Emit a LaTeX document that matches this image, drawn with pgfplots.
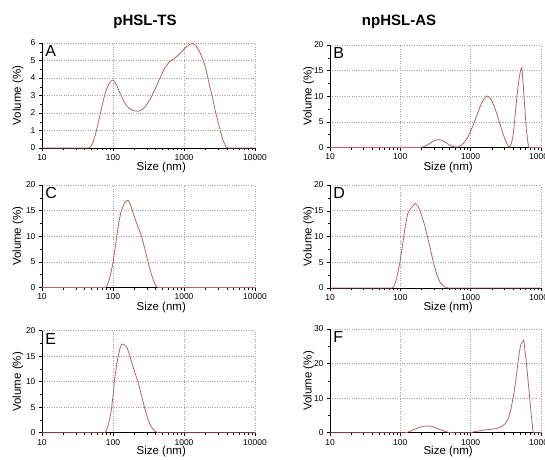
\documentclass[border=0pt]{standalone}
\usepackage{fontspec}
\setmainfont{Liberation Sans}
\usepackage{pgfplots}
\pgfplotsset{compat=1.18}
\definecolor{curvec}{RGB}{184,100,100}
\definecolor{gridc}{RGB}{165,165,165}
\newcommand{\panellabel}[1]{\node[anchor=north west, inner sep=0pt, font=\fontsize{16}{16}\selectfont] at (rel axis cs:0.015,0.975) {#1};}
\begin{document}
\begin{tikzpicture}
\useasboundingbox (0pt,0pt) rectangle (545pt,-459pt);
\clip (0pt,0pt) rectangle (545pt,-459pt);
\node[font=\bfseries\fontsize{15}{16}\selectfont] at (145pt,-22pt) {pHSL-TS};
\node[font=\bfseries\fontsize{15}{16}\selectfont] at (399pt,-22pt) {npHSL-AS};

% A
\begin{axis}[scale only axis, xmode=log, xmin=10, xmax=10000, ymin=0,
  xtick={10,100,1000,10000}, xticklabels={10,100,1000,10000},
  minor xtick={20,30,40,50,60,70,80,90,200,300,400,500,600,700,800,900,2000,3000,4000,5000,6000,7000,8000,9000},
  axis x line*=bottom, axis y line*=left,
  axis line style={-, black, line width=0.6pt},
  grid=major, major grid style={gridc, dotted, line width=0.7pt},
  tick style={black, line width=0.5pt},
  major tick length=3pt, minor tick length=2pt, tick align=outside,
  ticklabel style={font=\fontsize{8.5}{9}\selectfont},
  xlabel={Size (nm)}, ylabel={Volume (\%)},
  label style={font=\fontsize{11.5}{12}\selectfont},
  xlabel style={at={(axis description cs:0.56,0)}, anchor=center, yshift=-20pt},
  minor y tick num=1, clip=false,
  at={(42pt,-148pt)}, anchor=south west, width=213pt, height=105pt,
  ymax=6, ytick={0,1,2,3,4,5,6}, yticklabels={0,1,2,3,4,5,6},
  ylabel style={at={(axis description cs:-0.113,0.5)}, anchor=center}]
\addplot[curvec, line width=0.8pt] coordinates {(10,0)(45,0)(48,0.05)(52,0.3)(56,0.7)(60,1.2)(65,1.8)(70,2.4)(75,2.9)(80,3.3)(86,3.6)(92,3.8)(98,3.88)(104,3.82)(112,3.6)(122,3.25)(135,2.85)(150,2.5)(170,2.25)(195,2.13)(224,2.1)(255,2.18)(290,2.4)(340,2.85)(400,3.45)(470,4.1)(540,4.6)(630,4.95)(720,5.1)(830,5.3)(950,5.55)(1080,5.78)(1200,5.92)(1320,5.97)(1450,5.88)(1660,5.5)(1850,5.05)(2040,4.5)(2250,3.7)(2500,2.95)(2800,2.0)(3150,1.2)(3500,0.5)(3900,0.05)(4200,0)(10000,0)};
\panellabel{A}
\end{axis}

% B
\begin{axis}[scale only axis, xmode=log, xmin=10, xmax=10000, ymin=0,
  xtick={10,100,1000,10000}, xticklabels={10,100,1000,10000},
  minor xtick={20,30,40,50,60,70,80,90,200,300,400,500,600,700,800,900,2000,3000,4000,5000,6000,7000,8000,9000},
  axis x line*=bottom, axis y line*=left,
  axis line style={-, black, line width=0.6pt},
  grid=major, major grid style={gridc, dotted, line width=0.7pt},
  tick style={black, line width=0.5pt},
  major tick length=3pt, minor tick length=2pt, tick align=outside,
  ticklabel style={font=\fontsize{8.5}{9}\selectfont},
  xlabel={Size (nm)}, ylabel={Volume (\%)},
  label style={font=\fontsize{11.5}{12}\selectfont},
  xlabel style={at={(axis description cs:0.56,0)}, anchor=center, yshift=-20pt},
  minor y tick num=1, clip=false,
  at={(330pt,-147.5pt)}, anchor=south west, width=211pt, height=102.5pt,
  ymax=20, ytick={0,5,10,15,20}, yticklabels={0,5,10,15,20},
  ylabel style={at={(axis description cs:-0.101,0.5)}, anchor=center}]
\addplot[curvec, line width=0.8pt] coordinates {(10,0)(190,0)(210,0.1)(240,0.45)(270,0.9)(300,1.3)(340,1.55)(380,1.45)(430,1.1)(480,0.65)(540,0.25)(600,0.08)(660,0.1)(730,0.4)(800,0.9)(900,1.9)(1000,3.2)(1100,4.6)(1250,6.6)(1400,8.4)(1550,9.5)(1700,10.05)(1850,9.8)(2000,9.1)(2250,7.4)(2500,5.4)(2800,3.2)(3100,1.5)(3400,0.3)(3550,0.1)(3750,0.6)(3950,1.8)(4100,3.5)(4300,6.5)(4550,10)(4850,13.3)(5150,15.2)(5350,15.6)(5600,12)(5900,7.5)(6200,3.5)(6500,1)(6750,0)(10000,0)};
\panellabel{B}
\end{axis}

% C
\begin{axis}[scale only axis, xmode=log, xmin=10, xmax=10000, ymin=0,
  xtick={10,100,1000,10000}, xticklabels={10,100,1000,10000},
  minor xtick={20,30,40,50,60,70,80,90,200,300,400,500,600,700,800,900,2000,3000,4000,5000,6000,7000,8000,9000},
  axis x line*=bottom, axis y line*=left,
  axis line style={-, black, line width=0.6pt},
  grid=major, major grid style={gridc, dotted, line width=0.7pt},
  tick style={black, line width=0.5pt},
  major tick length=3pt, minor tick length=2pt, tick align=outside,
  ticklabel style={font=\fontsize{8.5}{9}\selectfont},
  xlabel={Size (nm)}, ylabel={Volume (\%)},
  label style={font=\fontsize{11.5}{12}\selectfont},
  xlabel style={at={(axis description cs:0.56,0)}, anchor=center, yshift=-20pt},
  minor y tick num=1, clip=false,
  at={(42pt,-287.5pt)}, anchor=south west, width=213pt, height=102.5pt,
  ymax=20, ytick={0,5,10,15,20}, yticklabels={0,5,10,15,20},
  ylabel style={at={(axis description cs:-0.113,0.5)}, anchor=center}]
\addplot[curvec, line width=0.8pt] coordinates {(10,0)(78,0)(82,0.3)(87,1.2)(93,2.7)(100,4.8)(108,8.0)(117,11.4)(124,13.5)(131,15)(146,16.6)(158,16.95)(165,17.0)(180,15.8)(200,13.8)(225,11.8)(250,10.2)(280,7.6)(310,5.1)(340,3.0)(370,1.4)(400,0.4)(430,0)(10000,0)};
\panellabel{C}
\end{axis}

% D
\begin{axis}[scale only axis, xmode=log, xmin=10, xmax=10000, ymin=0,
  xtick={10,100,1000,10000}, xticklabels={10,100,1000,10000},
  minor xtick={20,30,40,50,60,70,80,90,200,300,400,500,600,700,800,900,2000,3000,4000,5000,6000,7000,8000,9000},
  axis x line*=bottom, axis y line*=left,
  axis line style={-, black, line width=0.6pt},
  grid=major, major grid style={gridc, dotted, line width=0.7pt},
  tick style={black, line width=0.5pt},
  major tick length=3pt, minor tick length=2pt, tick align=outside,
  ticklabel style={font=\fontsize{8.5}{9}\selectfont},
  xlabel={Size (nm)}, ylabel={Volume (\%)},
  label style={font=\fontsize{11.5}{12}\selectfont},
  xlabel style={at={(axis description cs:0.56,0)}, anchor=center, yshift=-20pt},
  minor y tick num=1, clip=false,
  at={(330pt,-288pt)}, anchor=south west, width=211pt, height=103pt,
  ymax=20, ytick={0,5,10,15,20}, yticklabels={0,5,10,15,20},
  ylabel style={at={(axis description cs:-0.101,0.5)}, anchor=center}]
\addplot[curvec, line width=0.8pt] coordinates {(10,0)(76,0)(80,0.2)(86,1.2)(93,3.2)(100,5.5)(108,8.5)(117,11.8)(127,14.4)(140,15.4)(152,16.0)(163,16.45)(178,15.9)(195,14.6)(215,12.8)(240,10.3)(265,7.8)(295,5.0)(330,2.6)(370,1.0)(420,0.25)(480,0)(10000,0)};
\panellabel{D}
\end{axis}

% E
\begin{axis}[scale only axis, xmode=log, xmin=10, xmax=10000, ymin=0,
  xtick={10,100,1000,10000}, xticklabels={10,100,1000,10000},
  minor xtick={20,30,40,50,60,70,80,90,200,300,400,500,600,700,800,900,2000,3000,4000,5000,6000,7000,8000,9000},
  axis x line*=bottom, axis y line*=left,
  axis line style={-, black, line width=0.6pt},
  grid=major, major grid style={gridc, dotted, line width=0.7pt},
  tick style={black, line width=0.5pt},
  major tick length=3pt, minor tick length=2pt, tick align=outside,
  ticklabel style={font=\fontsize{8.5}{9}\selectfont},
  xlabel={Size (nm)}, ylabel={Volume (\%)},
  label style={font=\fontsize{11.5}{12}\selectfont},
  xlabel style={at={(axis description cs:0.56,0)}, anchor=center, yshift=-19pt},
  minor y tick num=1, clip=false,
  at={(42pt,-432.7pt)}, anchor=south west, width=213pt, height=102pt,
  ymax=20, ytick={0,5,10,15,20}, yticklabels={0,5,10,15,20},
  ylabel style={at={(axis description cs:-0.113,0.5)}, anchor=center}]
\addplot[curvec, line width=0.8pt] coordinates {(10,0)(76,0)(80,0.3)(85,1.3)(90,2.8)(95,4.5)(100,7.3)(105,10.3)(111,12.8)(117,14.7)(125,16.5)(132,17.3)(138,17.4)(148,17.1)(158,16.7)(175,14.8)(195,12.5)(225,10)(250,7.5)(277,5)(305,3)(340,1.3)(380,0.4)(430,0)(10000,0)};
\panellabel{E}
\end{axis}

% F
\begin{axis}[scale only axis, xmode=log, xmin=10, xmax=10000, ymin=0,
  xtick={10,100,1000,10000}, xticklabels={10,100,1000,10000},
  minor xtick={20,30,40,50,60,70,80,90,200,300,400,500,600,700,800,900,2000,3000,4000,5000,6000,7000,8000,9000},
  axis x line*=bottom, axis y line*=left,
  axis line style={-, black, line width=0.6pt},
  grid=major, major grid style={gridc, dotted, line width=0.7pt},
  tick style={black, line width=0.5pt},
  major tick length=3pt, minor tick length=2pt, tick align=outside,
  ticklabel style={font=\fontsize{8.5}{9}\selectfont},
  xlabel={Size (nm)}, ylabel={Volume (\%)},
  label style={font=\fontsize{11.5}{12}\selectfont},
  xlabel style={at={(axis description cs:0.56,0)}, anchor=center, yshift=-19pt},
  minor y tick num=1, clip=false,
  at={(330pt,-432.7pt)}, anchor=south west, width=211pt, height=103.7pt,
  ymax=30, ytick={0,10,20,30}, yticklabels={0,10,20,30},
  ylabel style={at={(axis description cs:-0.101,0.5)}, anchor=center}]
\addplot[curvec, line width=0.8pt] coordinates {(10,0)(115,0)(125,0.1)(140,0.5)(160,1.0)(185,1.5)(210,1.85)(240,1.95)(275,1.85)(320,1.4)(370,0.9)(430,0.4)(490,0.1)(550,0)(1000,0)(1140,0.3)(1570,0.8)(2000,1.0)(2410,1.3)(2800,1.9)(3150,2.7)(3450,4.3)(3720,6.6)(4050,10.5)(4370,15)(4650,19.5)(4900,23)(5150,25.5)(5700,26.8)(6200,20)(6700,13)(7200,6)(7740,0)(10000,0)};
\panellabel{F}
\end{axis}
\end{tikzpicture}
\end{document}
